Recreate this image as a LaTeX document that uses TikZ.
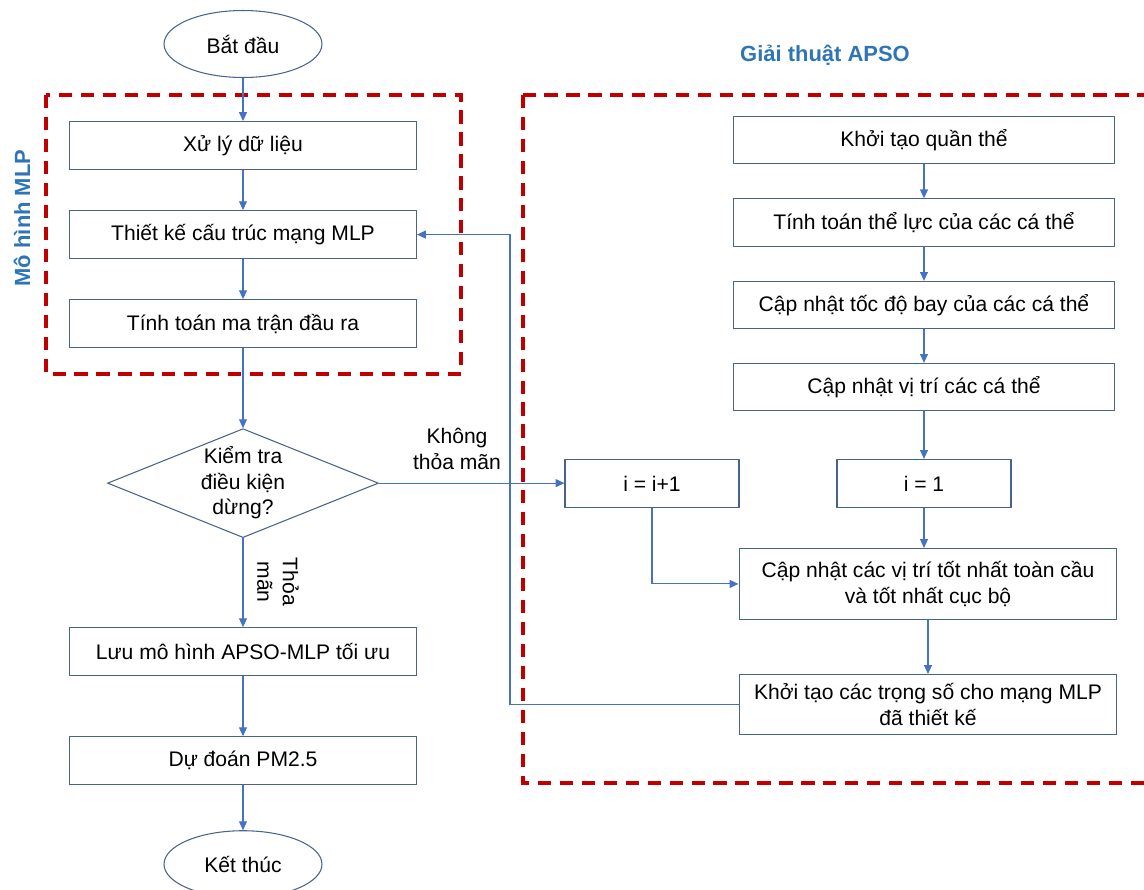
\documentclass[tikz,border=0pt]{standalone}
\usepackage{fontspec}
\setmainfont{Liberation Sans}
\usetikzlibrary{shapes.geometric,arrows.meta,positioning}
\definecolor{linkblue}{HTML}{4472C4}
\definecolor{boxline}{HTML}{4A6388}
\definecolor{groupred}{HTML}{C00000}
\definecolor{titleblue}{HTML}{2E75B6}

\begin{document}
\begin{tikzpicture}[
    x=0.02cm, y=-0.02cm,
    every node/.style={font=\fontsize{12}{14.5}\selectfont},
    box/.style={rectangle, draw=boxline, line width=0.6pt, minimum width=6.94cm, minimum height=0.96cm, align=center, inner sep=2pt},
    apsobox/.style={box, minimum width=7.62cm, minimum height=0.95cm},
    smallbox/.style={box, minimum width=3.48cm},
    terminal/.style={ellipse, draw=boxline, line width=0.6pt, minimum width=3.16cm, minimum height=1.34cm, inner sep=0pt},
    decision/.style={diamond, draw=boxline, line width=0.6pt, minimum width=5.42cm, minimum height=2.18cm, shape aspect=2.5, inner sep=0pt, align=center},
    group/.style={draw=groupred, line width=2.1pt, dash pattern=on 7.5pt off 5pt},
    grouptitle/.style={font=\fontsize{12.5}{15}\selectfont\bfseries, text=titleblue},
    arrow/.style={-{Triangle[length=5pt,width=4.5pt]}, draw=linkblue, line width=0.6pt}
]
    \useasboundingbox (0,0) rectangle (1144,890);

    % dashed groups
    \draw[group] (46,95) rectangle (461,374);
    \draw[group] (523,95) rectangle (1170,783);
    \node[grouptitle, rotate=90] (mlptitle) at (22,218) {Mô hình MLP};
    \node[grouptitle] (apsotitle) at (825,55) {Giải thuật APSO};

    % MLP column
    \node[terminal] (start) at (243,44) {Bắt đầu};
    \node[box, below=0.86cm of start] (prep) {Xử lý dữ liệu};
    \node[box, below=0.8cm of prep] (design) {Thiết kế cấu trúc mạng MLP};
    \node[box, below=0.8cm of design] (output) {Tính toán ma trận đầu ra};
    \node[decision, below=1.6cm of output] (check) {Kiểm tra\\điều kiện\\dừng?};
    \node[box, below=1.78cm of check] (save) {Lưu mô hình APSO-MLP tối ưu};
    \node[box, below=1.2cm of save] (predict) {Dự đoán PM2.5};
    \node[terminal, below=0.9cm of predict] (stop) {Kết thúc};

    % APSO column
    \node[apsobox] (swarm) at (924,140) {Khởi tạo quần thể};
    \node[apsobox, below=0.68cm of swarm] (fitness) {Tính toán thể lực của các cá thể};
    \node[apsobox, below=0.68cm of fitness] (velocity) {Cập nhật tốc độ bay của các cá thể};
    \node[apsobox, below=0.67cm of velocity] (position) {Cập nhật vị trí các cá thể};
    \node[smallbox, below=0.95cm of position] (ione) {i = 1};
    \node[smallbox, left=1.94cm of ione] (inc) {i = i+1};
    \node[apsobox, minimum width=7.56cm, minimum height=1.42cm, below=0.8cm of ione, xshift=0.08cm] (best) {Cập nhật các vị trí tốt nhất toàn cầu\\và tốt nhất cục bộ};
    \node[apsobox, minimum width=7.56cm, minimum height=1.2cm, below=1.08cm of best] (weights) {Khởi tạo các trọng số cho mạng MLP\\đã thiết kế};

    % labels
    \node[align=center] (nolabel) at (457,449) {Không\\thỏa mãn};
    \node[align=center, rotate=-90] (yeslabel) at (278,582) {Thỏa\\mãn};
    \coordinate (loop) at (510,235);

    % connectors
    \draw[arrow] (start) -- (prep);
    \draw[arrow] (prep) -- (design);
    \draw[arrow] (design) -- (output);
    \draw[arrow] (output) -- (check);
    \draw[arrow] (check) -- (save);
    \draw[arrow] (save) -- (predict);
    \draw[arrow] (predict) -- (stop);
    \draw[arrow] (check.east) -- (check.east -| inc.west);
    \draw[arrow] (swarm) -- (fitness);
    \draw[arrow] (fitness) -- (velocity);
    \draw[arrow] (velocity) -- (position);
    \draw[arrow] (position) -- (ione);
    \draw[arrow] (ione.south) -- (ione.south |- best.north);
    \draw[arrow] (inc.south) |- (best.west);
    \draw[arrow] (best) -- (weights);
    \draw[arrow] (weights.west) -| (loop |- design.east) -- (design.east);
\end{tikzpicture}
\end{document}
